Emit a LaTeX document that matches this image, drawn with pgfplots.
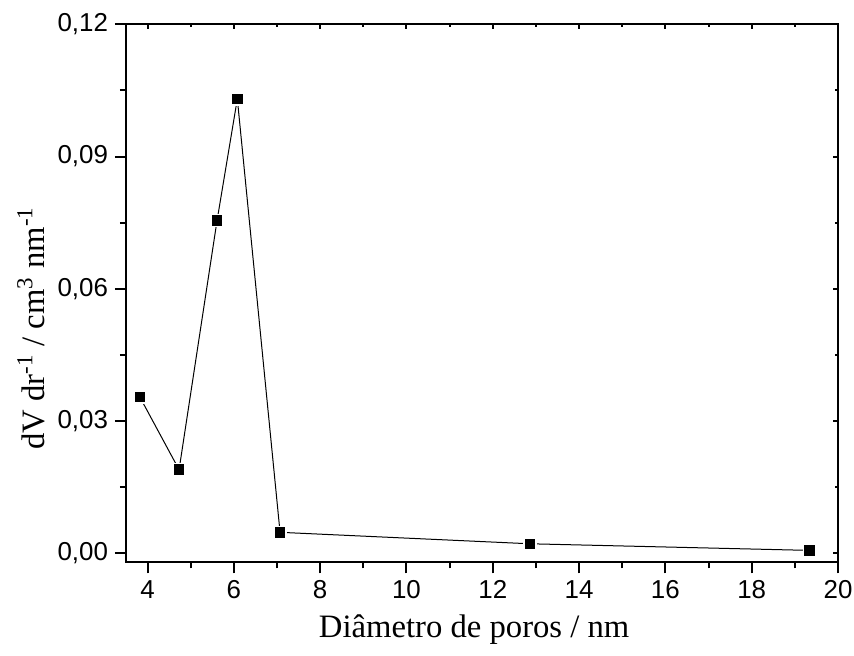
\documentclass[border=0pt]{standalone}
\usepackage{pgfplots}
\pgfplotsset{compat=1.18}
\usepackage{fontspec}
\setmainfont{Liberation Serif}
\newfontfamily\arialfont{Liberation Sans}
\begin{document}
\begin{tikzpicture}
\path[use as bounding box] (-63bp,-46.85bp) rectangle (364bp,281.15bp);
\pgfplotsset{common/.style={
  scale only axis, width=356bp, height=269bp,
  at={(0,0)}, anchor=south west,
  xmin=3.5, xmax=20, ymin=-0.002, ymax=0.12,
  xtick={4,6,...,20}, minor x tick num=1,
  ytick={0,0.03,0.06,0.09,0.12}, minor y tick num=1,
  axis line style={line width=1bp},
  every tick/.style={line width=1bp, black},
  every minor tick/.style={line width=1bp, black},
}}
\begin{axis}[common,
  tick align=outside, xtick pos=left, ytick pos=left,
  major tick length=5.5bp, minor tick length=3bp,
  /pgf/number format/assume math mode=true,
  ticklabel style={font=\arialfont\fontsize{13}{15}\selectfont},
  yticklabel style={/pgf/number format/fixed, /pgf/number format/fixed zerofill,
    /pgf/number format/precision=2, /pgf/number format/use comma},
  xlabel={Diâmetro de poros / nm},
  ylabel={dV dr\textsuperscript{-1} / cm\textsuperscript{3} nm\textsuperscript{-1}},
  label style={font=\fontsize{16.4}{19}\selectfont},
  xlabel style={at={(axis description cs:0.489,-0.1407)}, anchor=base},
  ylabel style={at={(axis description cs:-0.1138,0.435)}, anchor=base},
]
\addplot[black, line width=0.5bp, mark=square*,
  mark options={fill=black, draw=white, line width=0.8bp, mark size=3bp}]
  coordinates {(3.82,0.0355) (4.73,0.0190) (5.61,0.0755) (6.08,0.1031) (7.07,0.0048) (12.86,0.0022) (19.34,0.0007)};
\end{axis}
\begin{axis}[common,
  tick align=inside, xtick pos=right, ytick pos=right,
  major tick length=2.5bp, minor tick length=1.5bp,
  xticklabels={}, yticklabels={},
]
\end{axis}
\end{tikzpicture}
\end{document}
